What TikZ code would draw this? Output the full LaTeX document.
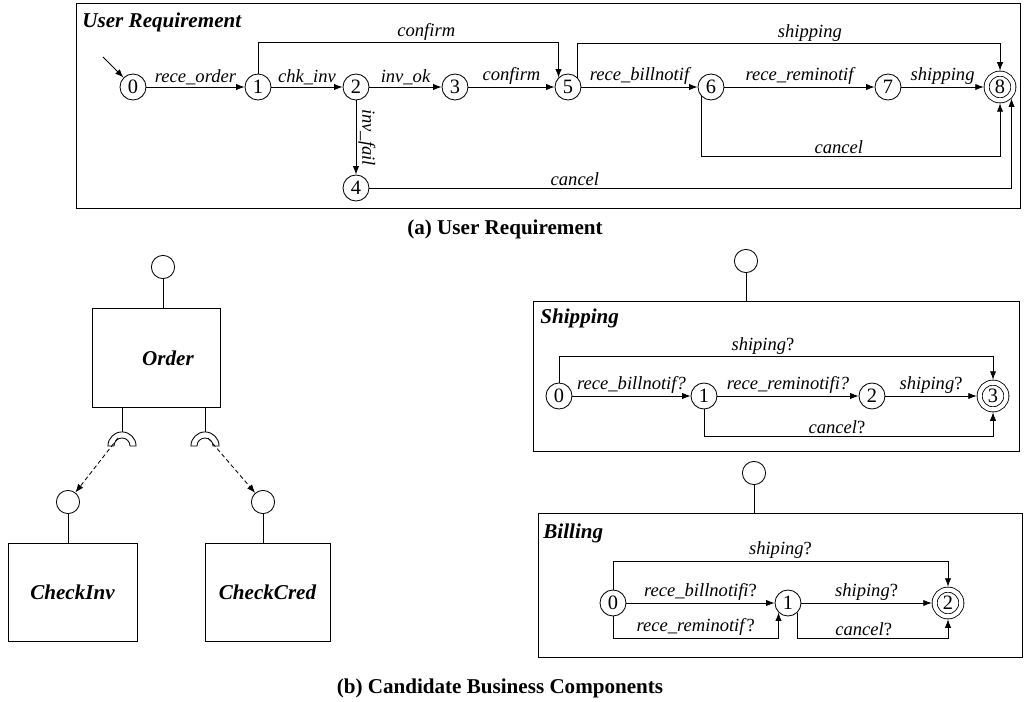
\documentclass[tikz,border=0pt]{standalone}
\usepackage{fontspec}
\setmainfont{Liberation Serif}
\usetikzlibrary{arrows.meta, positioning, calc}

\newcommand{\lblfont}{\fontsize{13.2}{15}\selectfont}
\newcommand{\numfont}{\fontsize{14.5}{16}\selectfont}
\newcommand{\ttlfont}{\fontsize{15}{17}\selectfont\bfseries\itshape}
\newcommand{\capfont}{\fontsize{15}{17}\selectfont\bfseries}

\tikzset{
  state/.style={circle, draw, minimum size=18.5pt, inner sep=0pt, font=\numfont},
  final/.style={state, double, double distance=3pt, minimum size=19pt, outer sep=2.1pt},
  iface/.style={circle, draw, minimum size=16.5pt, inner sep=0pt},
  comp/.style={draw, minimum width=91pt, minimum height=70pt, font=\ttlfont},
  box/.style={draw, inner sep=0pt},
  ttl/.style={font=\ttlfont, anchor=west, inner sep=0pt},
  lbl/.style={font=\lblfont\itshape, inner sep=1.5pt},
  trans/.style={-{Latex[length=6pt,width=4.5pt]}},
  socket/.pic={
    \draw[fill=white] (-10pt,0pt) arc[start angle=180, end angle=0, radius=10pt]
      -- (5.7pt,0pt) arc[start angle=0, end angle=180, radius=5.7pt] -- cycle;
  }
}

\begin{document}
\begin{tikzpicture}[x=0.025cm, y=-0.025cm, line width=0.6pt]
    \useasboundingbox (0,0) rectangle (1024,702);

    % User requirement
    \node[box, minimum width=670.8pt, minimum height=145.8pt] (urbox) at (548.5,105.5) {};
    \node[ttl] (urtitle) at (82,22) {User Requirement};

    \node[state] (u0) at (133,87) {0};
    \node[state] (u1) at (258,87) {1};
    \node[state] (u2) at (356,87) {2};
    \node[state] (u3) at (455,87) {3};
    \node[state] (u5) at (568,87) {5};
    \node[state] (u6) at (711,87) {6};
    \node[state] (u7) at (888,87) {7};
    \node[final] (u8) at (1000,87) {8};
    \node[state] (u4) at (356,188) {4};

    \coordinate (ustart) at (103,57);
    \draw[trans] (ustart) -- (u0);
    \draw[trans] (u0) -- node[lbl, above] {rece\_order} (u1);
    \draw[trans] (u1) -- node[lbl, above] {chk\_inv} (u2);
    \draw[trans] (u2) -- node[lbl, above] {inv\_ok} (u3);
    \draw[trans] (u3) -- node[lbl, above] {confirm} (u5);
    \draw[trans] (u5) -- node[lbl, above] {rece\_billnotif} (u6);
    \draw[trans] (u6) -- node[lbl, above] {rece\_reminotif} (u7);
    \draw[trans] (u7) -- node[lbl, above] {shipping} (u8);
    \draw[trans] (u2) -- node[lbl, anchor=south, rotate=-90] {inv\_fail} (u4);

    % Long transitions
    \draw[trans] (u1.north) -- ++(0,-31) -| node[lbl, pos=0.28, above] {confirm} (u5.north west);
    \draw[trans] (u5.north east) -- ++(0,-34) -| node[lbl, pos=0.275, above] {shipping} (u8.north);
    \draw[trans] (u6.south west) -- ++(0,59.5) -| node[lbl, pos=0.23, above] {cancel} (u8.south);
    \draw[trans] (u4.east) -| node[lbl, pos=0.16, above] {cancel} (u8.south east);

    \node[font=\capfont] (capa) at (505,229) {(a) User Requirement};

    % Components on the left
    \node[iface] (oif) at (163,267) {};
    \node[comp] (order) at (156,358) {};
    \node[font=\ttlfont] (ordername) at (168,358) {Order};
    \draw (oif) -- (oif |- order.north);

    \coordinate (sockL) at (122,446);
    \coordinate (sockR) at (205,446);
    \draw (sockL |- order.south) -- ($(sockL)+(0,-14)$);
    \draw (sockR |- order.south) -- ($(sockR)+(0,-14)$);
    \pic at (sockL) {socket};
    \pic at (sockR) {socket};

    \node[iface] (cif) at (68,502) {};
    \node[comp, minimum width=91.8pt] (chkinv) at (72.5,592.5) {CheckInv};
    \draw (cif) -- (cif |- chkinv.north);
    \node[iface] (ccif) at (263,502) {};
    \node[comp, minimum width=89pt] (chkcred) at (267.5,592.5) {CheckCred};
    \draw (ccif) -- (ccif |- chkcred.north);

    \draw[trans, dash pattern=on 3pt off 2pt] ($(sockL)+(-4,-8)$) -- (cif);
    \draw[trans, dash pattern=on 3pt off 2pt] ($(sockR)+(3,-8)$) -- (ccif);

    % Shipping
    \node[box, minimum width=345.7pt, minimum height=106.7pt] (shipbox) at (776,376) {};
    \node[ttl] (shiptitle) at (540,318) {Shipping};
    \node[iface] (shipif) at (746,261) {};
    \draw (shipif) -- (shipif |- shipbox.north);

    \node[state] (s0) at (559,396) {0};
    \node[state] (s1) at (704,396) {1};
    \node[state] (s2) at (872,396) {2};
    \node[final] (s3) at (993,396) {3};

    \draw[trans] (s0) -- node[lbl, above] {rece\_billnotif?} (s1);
    \draw[trans] (s1) -- node[lbl, above] {rece\_reminotifi?} (s2);
    \draw[trans] (s2) -- node[lbl, above] {shiping\textup{?}} (s3);
    \draw[trans] (s0.north) -- ++(0,-26) -| node[lbl, pos=0.235, above] {shiping\textup{?}} (s3.north);
    \draw[trans] (s1.south) -- ++(0,27) -| node[lbl, pos=0.23, above] {cancel\textup{?}} (s3.south);

    % Billing
    \node[box, minimum width=344.3pt, minimum height=102.4pt] (billbox) at (780,585) {};
    \node[ttl] (billtitle) at (543,533) {Billing};
    \node[iface] (billif) at (754,473) {};
    \draw (billif) -- (billif |- billbox.north);

    \node[state] (b0) at (613,603) {0};
    \node[state] (b1) at (788,603) {1};
    \node[final] (b2) at (948,603) {2};

    \draw[trans] (b0) -- node[lbl, above] {rece\_billnotifi\textup{?}} (b1);
    \draw[trans] (b1) -- node[lbl, above] {shiping\textup{?}} (b2);
    \draw[trans] (b0.north) -- ++(0,-28.6) -| node[lbl, pos=0.25, above] {shiping\textup{?}} (b2.north);
    \draw[trans] (b0.south) -- ++(0,21.6) -| node[lbl, pos=0.25, above] {rece\_reminotif\textup{?}} (b1.south west);
    \draw[trans] (b1.south east) -- ++(0,25.5) -| node[lbl, pos=0.22, above] {cancel\textup{?}} (b2.south);

    \node[font=\capfont] (capb) at (500,688) {(b) Candidate Business Components};
\end{tikzpicture}
\end{document}
